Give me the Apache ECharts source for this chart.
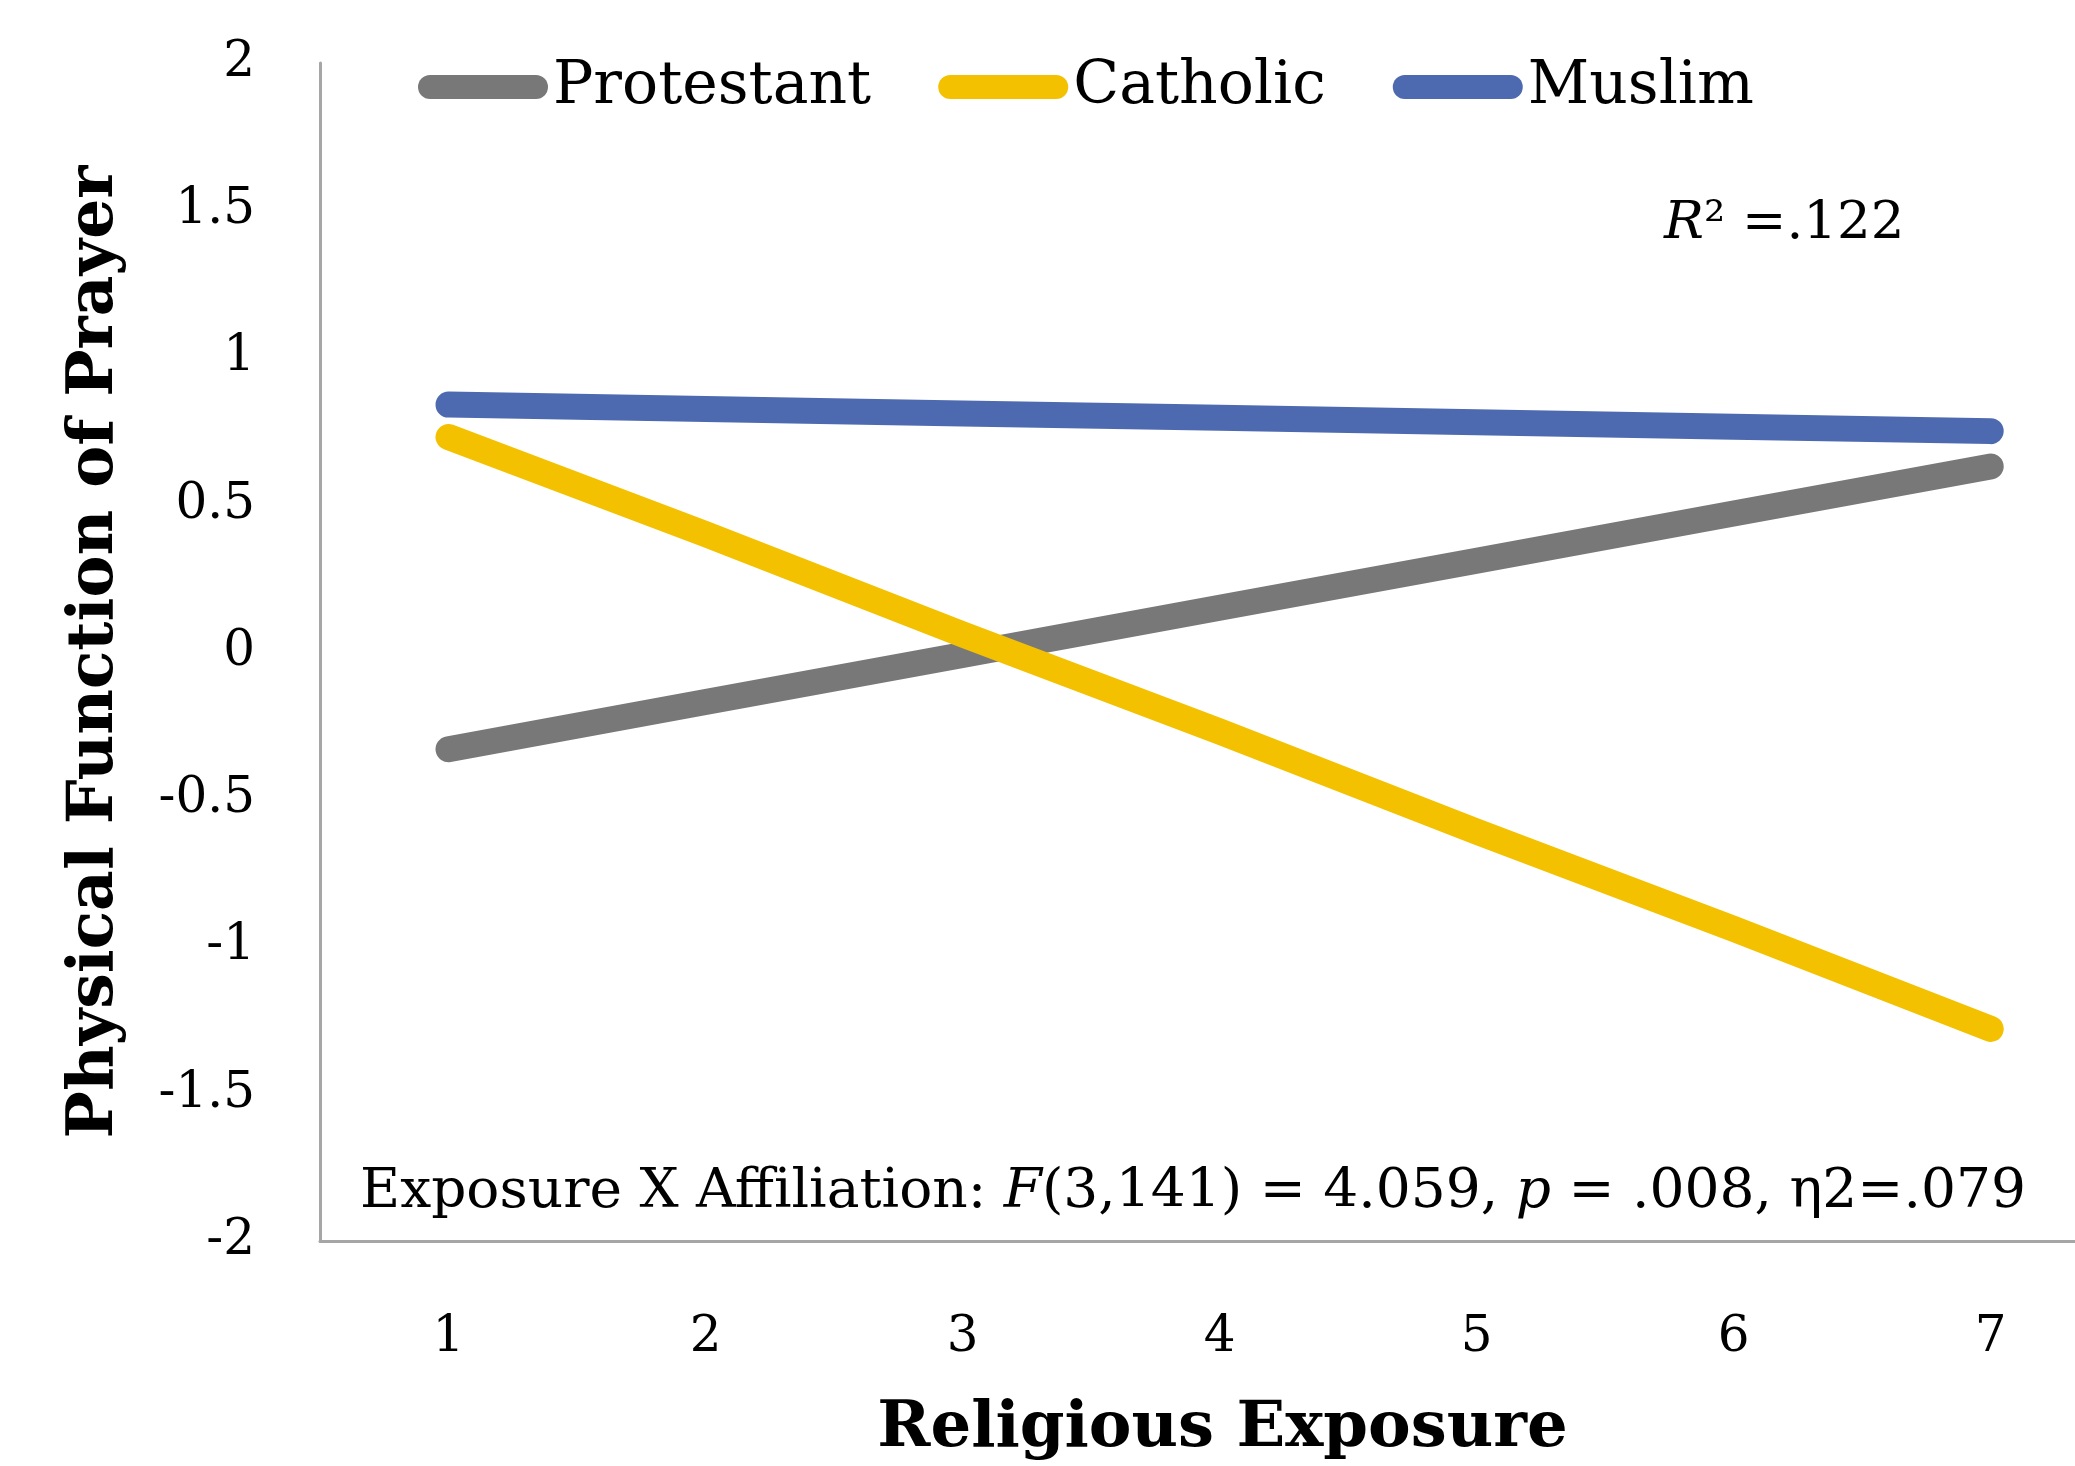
<!DOCTYPE html>
<html>
<head>
<meta charset="utf-8">
<script src="https://cdn.jsdelivr.net/npm/echarts@6/dist/echarts.min.js"></script>
<style>
  html, body { margin: 0; padding: 0; background: #ffffff; }
  #chart { width: 2075px; height: 1466px; }
</style>
</head>
<body>
<div id="chart"></div>
<script>
// ---- data ----
const exposureTicks = [1, 2, 3, 4, 5, 6, 7];
const seriesNames = ['Protestant', 'Catholic', 'Muslim'];
const protestantValues = [-0.33, -0.17, -0.01, 0.15, 0.31, 0.47, 0.63];
const catholicValues   = [0.73, 0.40, 0.06, -0.27, -0.61, -0.94, -1.28];
const muslimValues     = [0.84, 0.825, 0.81, 0.795, 0.78, 0.765, 0.75];
const yTickMin = -2, yTickMax = 2, yTickStep = 0.5;
const yAxisTitle = 'Physical Function of Prayer';
const xAxisTitle = 'Religious Exposure';
const r2Note = 'R² =.122';
const statNote = 'Exposure X Affiliation: F(3,141) = 4.059, p = .008, η2=.079';

const colors = ['#787878', '#F4C100', '#4D69B0'];
const FONT = 'DejaVu Serif';

const chart = echarts.init(document.getElementById('chart'), null, { renderer: 'canvas' });

const valueSets = [protestantValues, catholicValues, muslimValues];
const series = seriesNames.map((name, i) => ({
  name: name,
  type: 'line',
  data: exposureTicks.map((x, k) => [x, valueSets[i][k]]),
  symbol: 'none',
  smooth: false,
  lineStyle: { width: 26, color: colors[i], cap: 'round', join: 'round' },
  itemStyle: { color: colors[i] },
  z: 2 + (i === 1 ? 1 : 0)
}));

const capsule = 'path://M12,0 L118,0 A12,12 0 0 1 118,24 L12,24 A12,12 0 0 1 12,0 Z';

const option = {
  backgroundColor: '#ffffff',
  animation: false,
  color: colors,
  textStyle: { fontFamily: FONT, color: '#000' },
  grid: { left: 320, top: 63, right: 0, bottom: 217, containLabel: false },
  legend: {
    data: seriesNames.map(n => ({ name: n, icon: capsule })),
    left: 413,
    top: 47,
    itemWidth: 130,
    itemHeight: 24,
    itemGap: 67,
    textStyle: { fontFamily: FONT, fontSize: 60, color: '#000', lineHeight: 70, padding: [0, 0, 0, 0] }
  },
  xAxis: {
    type: 'value',
    min: 0.5,
    max: 7.328,
    axisLine: { show: true, onZero: false, lineStyle: { color: '#a6a6a6', width: 3 } },
    axisTick: { show: false },
    axisLabel: {
      fontFamily: FONT, fontSize: 50, color: '#000', margin: 72,
      customValues: exposureTicks,
      showMinLabel: true, showMaxLabel: true
    },
    splitLine: { show: false },
    name: xAxisTitle,
    nameLocation: 'middle',
    nameGap: 156,
    nameTextStyle: { fontFamily: FONT, fontSize: 64, fontWeight: 'bold', color: '#000', padding: [0, 0, 0, 50] }
  },
  yAxis: {
    type: 'value',
    min: yTickMin,
    max: yTickMax,
    interval: yTickStep,
    axisLine: { show: true, lineStyle: { color: '#a6a6a6', width: 3 } },
    axisTick: { show: false },
    splitLine: { show: false },
    axisLabel: { fontFamily: FONT, fontSize: 50, color: '#000', margin: 65 },
    name: yAxisTitle,
    nameLocation: 'middle',
    nameGap: 193,
    nameRotate: 90,
    nameTextStyle: { fontFamily: FONT, fontSize: 63, fontWeight: 'bold', color: '#000' }
  },
  graphic: [
    {
      type: 'text',
      left: 1664,
      top: 198,
      style: {
        text: '{i|R}{n|' + r2Note.slice(1) + '}',
        rich: {
          i: { fontFamily: FONT, fontSize: 53, fontStyle: 'italic', fill: '#000' },
          n: { fontFamily: FONT, fontSize: 53, fill: '#000' }
        }
      }
    },
    {
      type: 'text',
      left: 360,
      top: 1165,
      style: {
        text: (function () {
          const s = statNote;
          const iF = s.indexOf('F(');
          const iP = s.indexOf('p =');
          return '{n|' + s.slice(0, iF) + '}{i|F}{n|' + s.slice(iF + 1, iP) + '}{i|p}{n|' + s.slice(iP + 1) + '}';
        })(),
        rich: {
          i: { fontFamily: FONT, fontSize: 55, fontStyle: 'italic', fill: '#000' },
          n: { fontFamily: FONT, fontSize: 55, fill: '#000' }
        }
      }
    }
  ],
  series: series
};

chart.setOption(option);
</script>
</body>
</html>
